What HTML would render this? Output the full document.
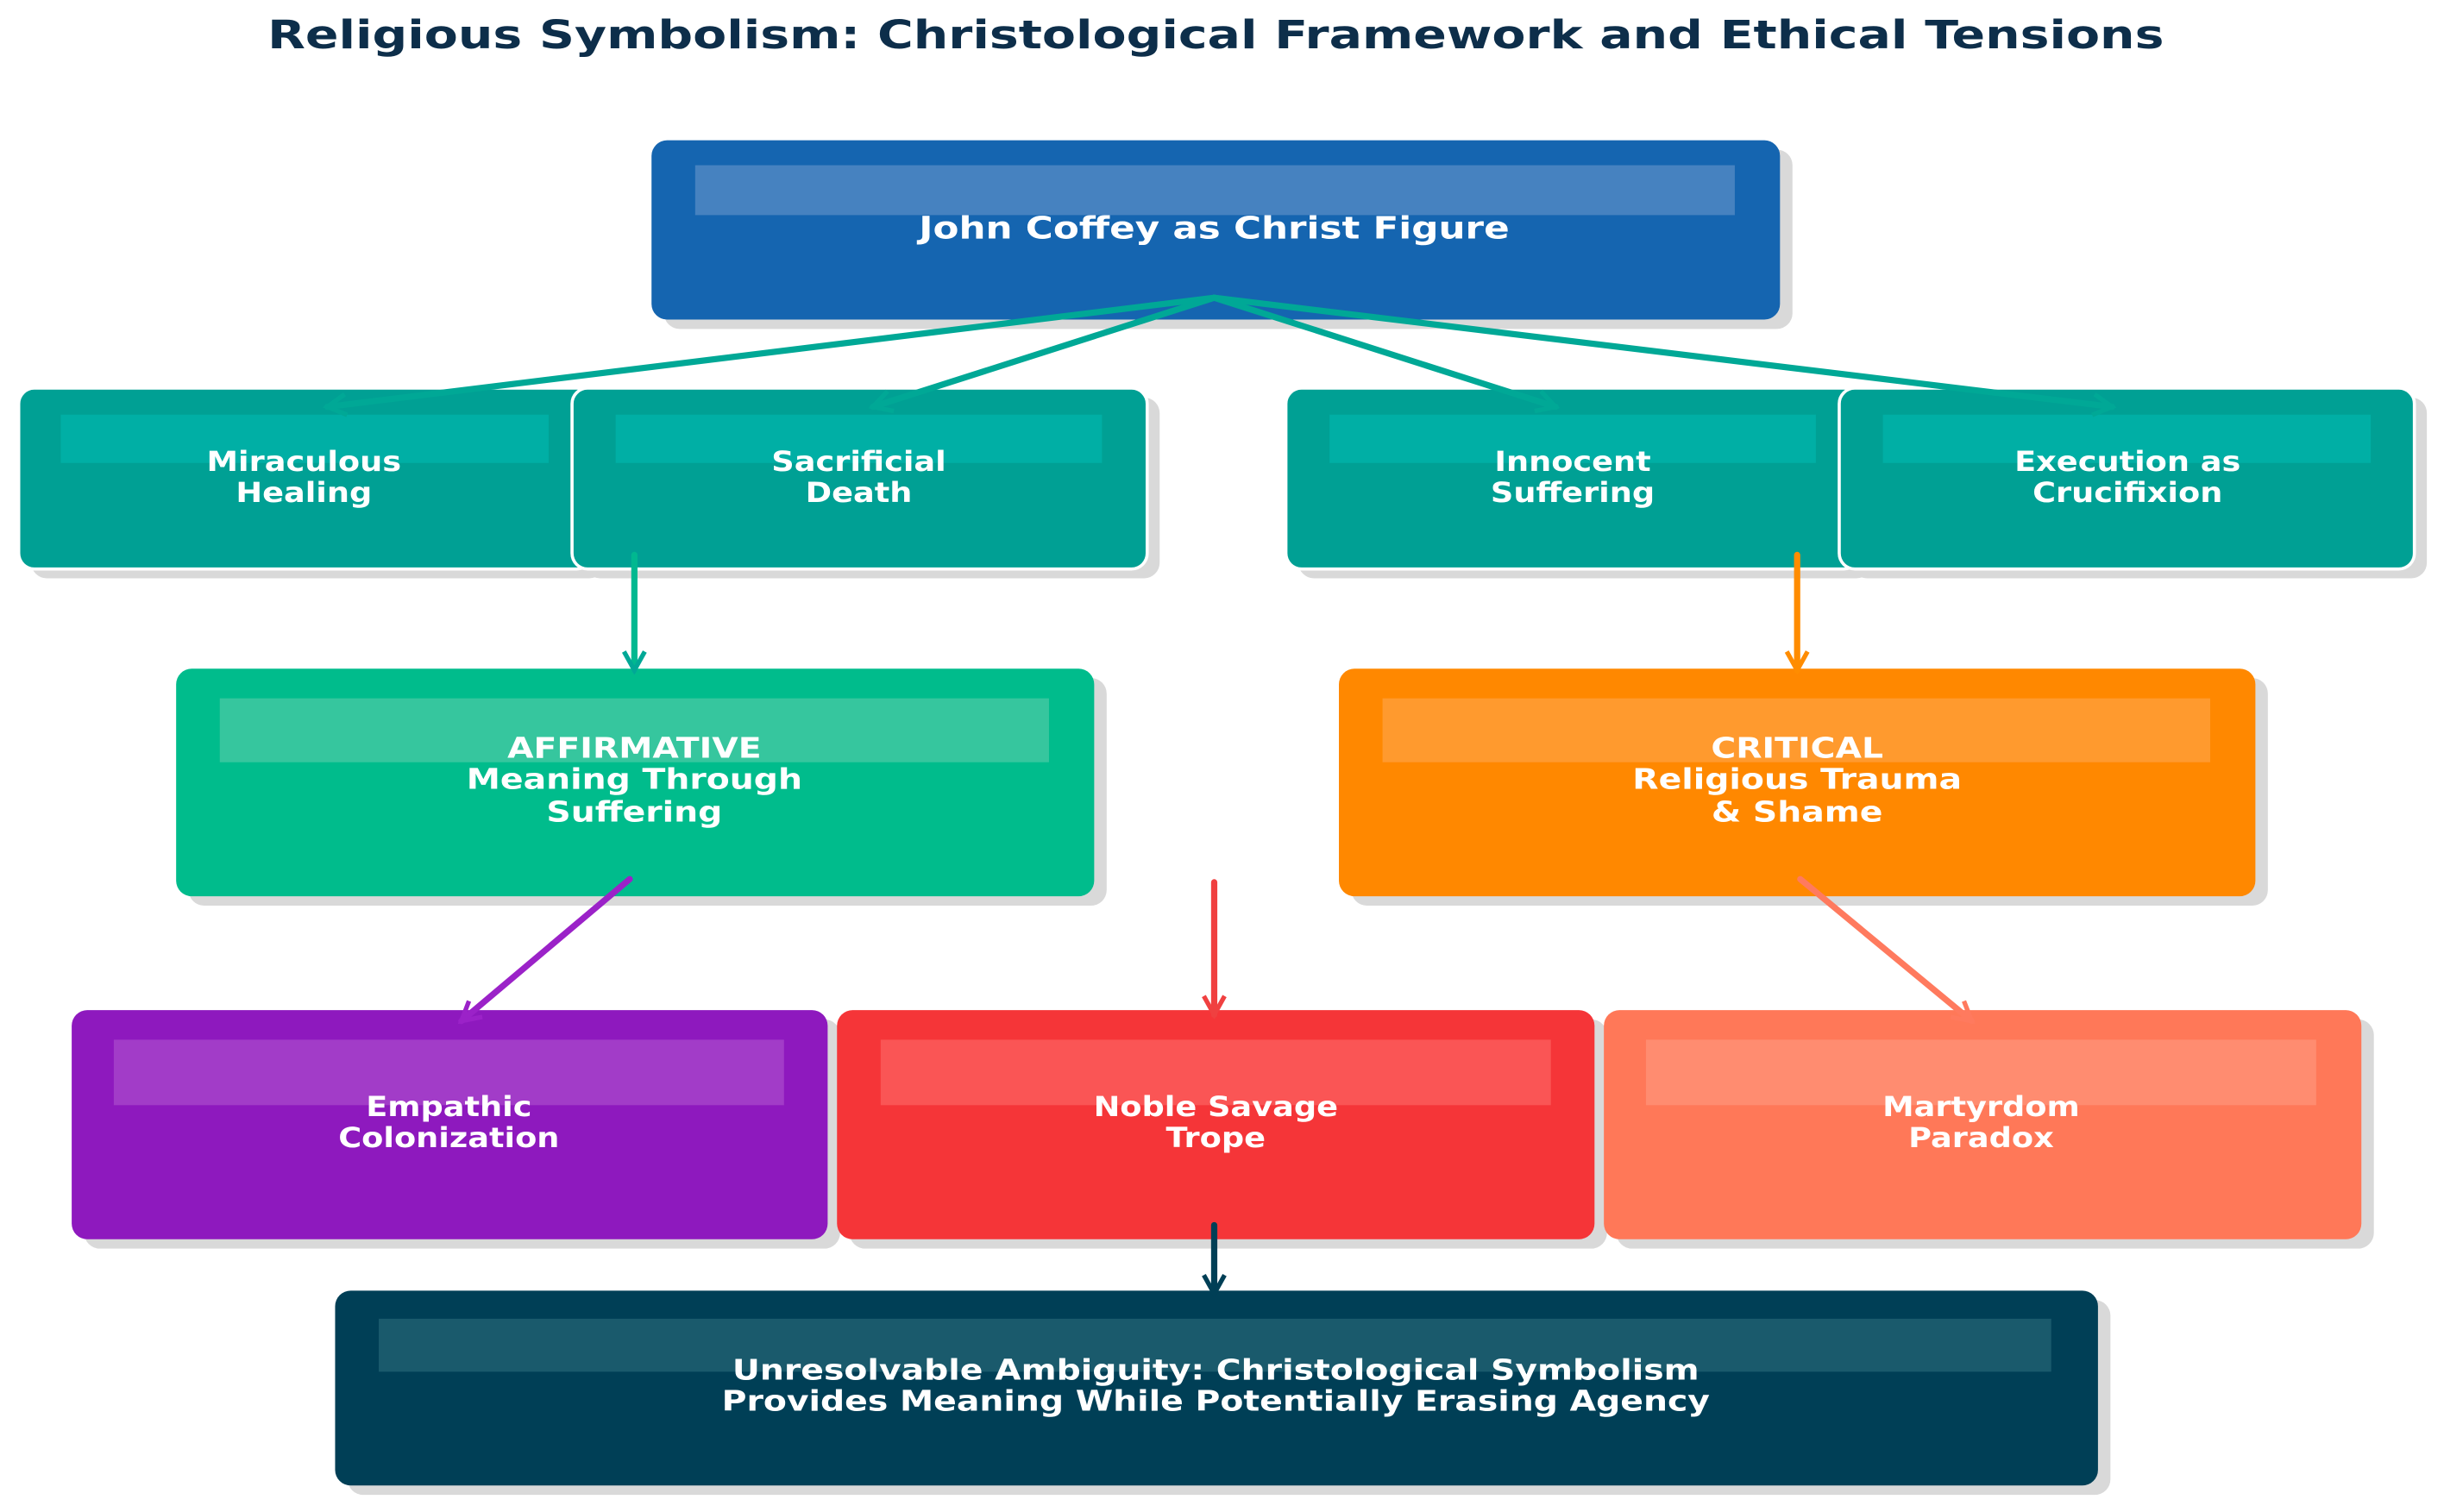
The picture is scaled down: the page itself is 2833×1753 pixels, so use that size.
<!DOCTYPE html>
<html><head><meta charset="utf-8"><style>
html,body{margin:0;padding:0;background:#fff;}
svg{display:block;}
text{font-family:"DejaVu Sans","Liberation Sans",sans-serif;font-weight:bold;fill:#fff;text-anchor:middle;}
</style></head><body>
<svg width="2833" height="1753" viewBox="0 0 1568 970" preserveAspectRatio="none" xmlns="http://www.w3.org/2000/svg">
<defs>
<marker id="mt" viewBox="0 0 12 12" refX="10" refY="6" markerWidth="4" markerHeight="4" orient="auto"><path d="M1,1 L10,6 L1,11" fill="none" stroke="#00A896" stroke-width="2.2"/></marker>
<marker id="mo" viewBox="0 0 12 12" refX="10" refY="6" markerWidth="4" markerHeight="4" orient="auto"><path d="M1,1 L10,6 L1,11" fill="none" stroke="#FF8C00" stroke-width="2.2"/></marker>
<marker id="mp" viewBox="0 0 12 12" refX="10" refY="6" markerWidth="4" markerHeight="4" orient="auto"><path d="M1,1 L10,6 L1,11" fill="none" stroke="#9B22C8" stroke-width="2.2"/></marker>
<marker id="mr" viewBox="0 0 12 12" refX="10" refY="6" markerWidth="4" markerHeight="4" orient="auto"><path d="M1,1 L10,6 L1,11" fill="none" stroke="#F04040" stroke-width="2.2"/></marker>
<marker id="ms" viewBox="0 0 12 12" refX="10" refY="6" markerWidth="4" markerHeight="4" orient="auto"><path d="M1,1 L10,6 L1,11" fill="none" stroke="#FF7A5E" stroke-width="2.2"/></marker>
<marker id="md" viewBox="0 0 12 12" refX="10" refY="6" markerWidth="4" markerHeight="4" orient="auto"><path d="M1,1 L10,6 L1,11" fill="none" stroke="#003F56" stroke-width="2.2"/></marker>
</defs>

<text transform="translate(780,31) scale(1.26,1)" style="fill:#0D2E4A;font-size:25px">Religious Symbolism: Christological Framework and Ethical Tensions</text>

<g fill="#d9d9d9">
<rect x="426" y="96" width="724" height="115" rx="10"/>
<rect x="20" y="255" width="368" height="116" rx="10"/>
<rect x="375" y="255" width="369" height="116" rx="10"/>
<rect x="833" y="255" width="368" height="116" rx="10"/>
<rect x="1188" y="255" width="369" height="116" rx="10"/>
<rect x="121" y="435" width="589" height="146" rx="10"/>
<rect x="867" y="435" width="588" height="146" rx="10"/>
<rect x="54" y="654" width="485" height="147" rx="10"/>
<rect x="545" y="654" width="486" height="147" rx="10"/>
<rect x="1037" y="654" width="486" height="147" rx="10"/>
<rect x="223" y="834" width="1131" height="125" rx="10"/>
</g>

<rect x="418" y="90" width="724" height="115" rx="10" fill="#1565B0"/>
<rect x="446" y="106" width="667" height="32" fill="#4682C0"/>

<rect x="12" y="249" width="368" height="116" rx="10" fill="#00A094" stroke="#fff" stroke-width="2"/>
<rect x="39" y="266" width="313" height="31" fill="#00AFA5"/>
<rect x="367" y="249" width="369" height="116" rx="10" fill="#00A094" stroke="#fff" stroke-width="2"/>
<rect x="395" y="266" width="312" height="31" fill="#00AFA5"/>
<rect x="825" y="249" width="368" height="116" rx="10" fill="#00A094" stroke="#fff" stroke-width="2"/>
<rect x="853" y="266" width="312" height="31" fill="#00AFA5"/>
<rect x="1180" y="249" width="369" height="116" rx="10" fill="#00A094" stroke="#fff" stroke-width="2"/>
<rect x="1208" y="266" width="313" height="31" fill="#00AFA5"/>

<rect x="113" y="429" width="589" height="146" rx="10" fill="#00BC8C"/>
<rect x="141" y="448" width="532" height="41" fill="#36C69E"/>
<rect x="859" y="429" width="588" height="146" rx="10" fill="#FF8800"/>
<rect x="887" y="448" width="531" height="41" fill="#FF9A2E"/>

<rect x="46" y="648" width="485" height="147" rx="10" fill="#8E19BE"/>
<rect x="73" y="667" width="430" height="42" fill="#A23CC8"/>
<rect x="537" y="648" width="486" height="147" rx="10" fill="#F53538"/>
<rect x="565" y="667" width="430" height="42" fill="#FA5555"/>
<rect x="1029" y="648" width="486" height="147" rx="10" fill="#FF7858"/>
<rect x="1056" y="667" width="430" height="42" fill="#FF8C70"/>

<rect x="215" y="828" width="1131" height="125" rx="10" fill="#003F56"/>
<rect x="243" y="846" width="1073" height="34" fill="#1A5A6C"/>

<g fill="none" stroke-width="4" stroke-linecap="round">
<line x1="779" y1="191" x2="210" y2="261" stroke="#00A896" marker-end="url(#mt)"/>
<line x1="779" y1="191" x2="560" y2="261" stroke="#00A896" marker-end="url(#mt)"/>
<line x1="779" y1="191" x2="998" y2="261" stroke="#00A896" marker-end="url(#mt)"/>
<line x1="779" y1="191" x2="1355" y2="261" stroke="#00A896" marker-end="url(#mt)"/>
<line x1="407" y1="356" x2="407" y2="430" stroke="#00B890" marker-end="url(#mt)"/>
<line x1="1153" y1="356" x2="1153" y2="430" stroke="#FF8C00" marker-end="url(#mo)"/>
<line x1="404" y1="564" x2="296" y2="655" stroke="#9B22C8" marker-end="url(#mp)"/>
<line x1="779" y1="566" x2="779" y2="651" stroke="#F04040" marker-end="url(#mr)"/>
<line x1="1155" y1="564" x2="1265" y2="655" stroke="#FF7A5E" marker-end="url(#ms)"/>
<line x1="779" y1="786" x2="779" y2="830" stroke="#003F56" marker-end="url(#md)"/>
</g>

<g style="font-size:16px">
<text transform="translate(779,153) scale(1.38,1.12)" style="font-size:17.5px">John Coffey as Christ Figure</text>
<text transform="translate(195,302) scale(1.27,1.1)">Miraculous</text>
<text transform="translate(195,322) scale(1.27,1.1)">Healing</text>
<text transform="translate(551,302) scale(1.27,1.1)">Sacrificial</text>
<text transform="translate(551,322) scale(1.27,1.1)">Death</text>
<text transform="translate(1009,302) scale(1.27,1.1)">Innocent</text>
<text transform="translate(1009,322) scale(1.27,1.1)">Suffering</text>
<text transform="translate(1365,302) scale(1.27,1.1)">Execution as</text>
<text transform="translate(1365,322) scale(1.27,1.1)">Crucifixion</text>
<text transform="translate(407,486) scale(1.32,1.1)" style="font-size:16.5px">AFFIRMATIVE</text>
<text transform="translate(407,506) scale(1.32,1.1)" style="font-size:16.5px">Meaning Through</text>
<text transform="translate(407,527) scale(1.32,1.1)" style="font-size:16.5px">Suffering</text>
<text transform="translate(1153,486) scale(1.32,1.1)" style="font-size:16.5px">CRITICAL</text>
<text transform="translate(1153,506) scale(1.32,1.1)" style="font-size:16.5px">Religious Trauma</text>
<text transform="translate(1153,527) scale(1.32,1.1)" style="font-size:16.5px">&amp; Shame</text>
<text transform="translate(288,716) scale(1.27,1.1)">Empathic</text>
<text transform="translate(288,736) scale(1.27,1.1)">Colonization</text>
<text transform="translate(780,716) scale(1.27,1.1)">Noble Savage</text>
<text transform="translate(780,736) scale(1.27,1.1)">Trope</text>
<text transform="translate(1271,716) scale(1.27,1.1)">Martyrdom</text>
<text transform="translate(1271,736) scale(1.27,1.1)">Paradox</text>
<text transform="translate(780,885) scale(1.32,1.1)" style="font-size:16.5px">Unresolvable Ambiguity: Christological Symbolism</text>
<text transform="translate(780,905) scale(1.32,1.1)" style="font-size:16.5px">Provides Meaning While Potentially Erasing Agency</text>
</g>
</svg>
</body></html>
